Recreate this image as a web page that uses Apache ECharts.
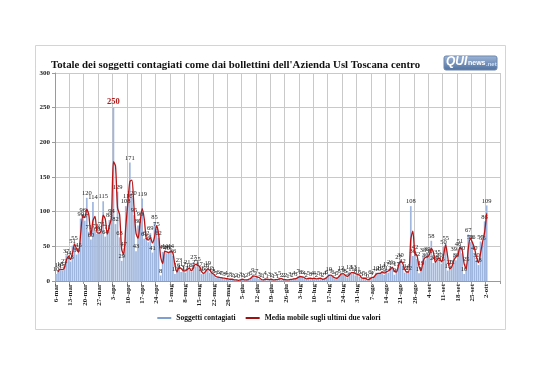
<!DOCTYPE html>
<html><head><meta charset="utf-8">
<script src="https://cdn.jsdelivr.net/npm/echarts@6/dist/echarts.min.js"></script>
<style>html,body{margin:0;padding:0;background:#fff}#c{width:538px;height:380px}</style>
</head><body><div id="c"></div>
<script>
// Category axis: daily, 6-mar .. 8-ott (last weeks without data)
const monthNames = ['mar','apr','mag','giu','lug','ago','set','ott'];
const monthLengths = [31,30,31,30,31,31,30,31];
const firstDay = 6;
const lastDayOtt = 8;

// Soggetti contagiati, per month (March starts at the 6th)
const marValues = [10,16,18,15,22,37,34,28,51,55,38,45,90,96,87,120,71,60,114,72,68,70,75,115,64,71];
const aprValues = [88,94,250,82,129,63,29,47,108,116,171,120,95,43,80,90,119,61,62,56,69,41,85,75,62,8,42,44,40,42];
const magValues = [44,36,10,16,23,13,17,12,21,16,13,27,21,25,17,10,12,16,19,12,11,8,5,6,4,5,3,4,2,3,2];
const giuValues = [1,2,0,3,2,1,2,3,5,9,5,7,3,2,1,4,1,3,2,1,3,1,5,2,2,2,1,3,2,4];
const lugValues = [3,7,6,6,4,2,5,3,4,4,2,5,3,2,4,6,10,7,6,3,5,8,12,9,8,5,13,11,13,8,11];
const agoValues = [6,3,5,3,0,6,4,7,12,10,12,14,9,17,12,21,19,9,17,27,30,22,12,14,12,108,36,42,32,11,19];
const setValues = [38,30,39,36,58,26,28,35,30,25,50,55,15,20,21,39,30,46,51,40,10,25,67,56,56,40,30,23,57,55];
const ottValues = [86,109];

const yTicks = [0,50,100,150,200,250,300];

const categories = [];
monthNames.forEach((m, mi) => {
  const start = mi === 0 ? firstDay : 1;
  const end = m === 'ott' ? lastDayOtt : monthLengths[mi];
  for (let d = start; d <= end; d++) categories.push(d + '-' + m);
});
const values = [].concat(marValues, aprValues, magValues, giuValues, lugValues, agoValues, setValues, ottValues);
while (values.length < categories.length) values.push(null);

// "Media mobile sugli ultimi due valori" – 2-period moving average of the bars (as the legend defines it)
const movingAvg = values.map((v, i) => (i === 0 || v == null || values[i-1] == null) ? null : (values[i-1] + v) / 2);

const maxVal = Math.max(...values.filter(v => v != null));
const barData = values.map(v => v === maxVal ? {value: v, label: {color:'#b01c1c', fontWeight:'bold', fontSize:8.5}} : v);

const serif = 'Liberation Serif';
const chart = echarts.init(document.getElementById('c'), null, {renderer:'canvas'});
chart.setOption({
  animation: false,
  backgroundColor: '#fff',
  title: {
    text: "Totale dei soggetti contagiati come dai bollettini dell'Azienda Usl Toscana centro",
    left: 46, top: 55,
    textStyle: {fontFamily: serif, fontWeight: 'bold', fontSize: 10.8, color: '#111'}
  },
  graphic: [
    {type:'rect', shape:{x:35.5, y:45.5, width:470, height:284}, style:{fill:'none', stroke:'#d4d4d4', lineWidth:1}, silent:true},
    {type:'rect', shape:{x:444, y:56, width:53, height:14, r:2},
      style:{fill:new echarts.graphic.LinearGradient(0,0,0,1,[{offset:0,color:'#9fb6d8'},{offset:1,color:'#4e6f9e'}]), stroke:'#6d86ad'}},
    {type:'text', left:446, top:56, style:{text:'QUI', fill:'#fff', font:'bold italic 12px "Liberation Sans"'}},
    {type:'text', left:468, top:60, style:{text:'news', fill:'#fff', font:'bold 7px "Liberation Sans"'}},
    {type:'text', left:486, top:61, style:{text:'.net', fill:'#cfe0f5', font:'bold 6px "Liberation Sans"'}}
  ],
  legend: {
    bottom: 53, left: 'center', itemGap: 10,
    textStyle: {fontFamily: serif, fontWeight: 'bold', fontSize: 7.5, color: '#111'},
    data: [
      {name:'Soggetti contagiati', icon:'rect', itemStyle:{color:'#7f9fd0'}},
      {name:'Media mobile sugli ultimi due valori', icon:'rect', itemStyle:{color:'#a01010'}}
    ],
    itemWidth: 14, itemHeight: 2
  },
  grid: {left:55, right:38, top:73, bottom:99, containLabel:false},
  xAxis: {
    type:'category', data: categories, boundaryGap: true,
    axisLine: {lineStyle:{color:'#9a9a9a'}},
    axisTick: {show:true, interval:6, length:3, lineStyle:{color:'#9a9a9a'}},
    axisLabel: {interval:6, rotate:90, fontSize:7, fontWeight:'bold', fontFamily:serif, color:'#222', margin:3},
    splitLine: {show:true, interval:6, lineStyle:{color:'#c9c9c9'}}
  },
  yAxis: {
    type:'value', min:0, max:300, interval:50,
    axisLine: {show:true, lineStyle:{color:'#9a9a9a'}},
    axisTick: {show:true, length:3, lineStyle:{color:'#9a9a9a'}},
    axisLabel: {fontSize:7, fontWeight:'bold', fontFamily:serif, color:'#222', margin:5,
      formatter: v => yTicks.includes(v) ? String(v) : ''},
    splitLine: {lineStyle:{color:'#c9c9c9'}}
  },
  series: [
    {name:'Soggetti contagiati', type:'bar', data: barData, barWidth:'82%',
      itemStyle:{color: '#9fb6de'},
      label:{show:true, position:'top', distance:1, fontSize:6.5, fontFamily:serif, color:'#222'}},
    {name:'Media mobile sugli ultimi due valori', type:'line', data: movingAvg, showSymbol:false, smooth:0.25,
      lineStyle:{color:'#b81414', width:1.3}, itemStyle:{color:'#b81414'}, z:5}
  ]
});
</script></body></html>
